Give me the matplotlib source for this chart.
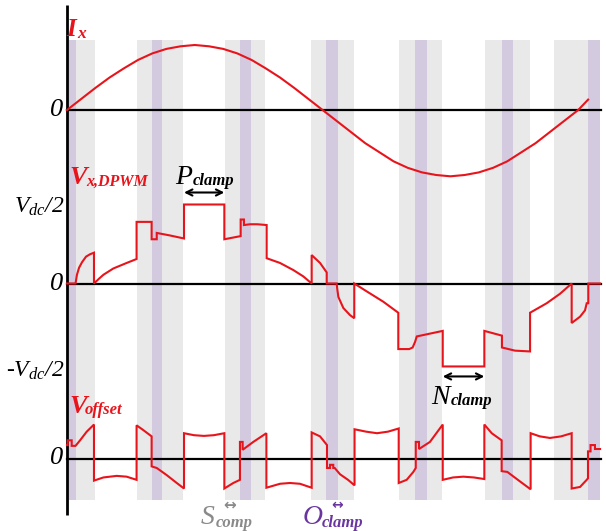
import matplotlib
matplotlib.use("Agg")
import matplotlib.pyplot as plt

# ---------------- data (angles in degrees, values per-unit) ----------------
# phase current I_x (normalised to its peak)
ix_deg = list(range(0, 361, 10)) + [367]
ix_val = [0, .17, .34, .50, .64, .77, .87, .94, .98, 1.0, .98, .94, .87, .77, .64, .50, .34, .17, 0,
          -.17, -.34, -.51, -.65, -.79, -.89, -.96, -1.0, -1.02, -1.0, -.96, -.89, -.79, -.65, -.51,
          -.34, -.17, 0, .16]

# pole voltage V_x,DPWM (units of Vdc/2)
vx_deg = [0, 6.0, 7.0, 8.5, 10.6, 13.4, 16.2, 19.0, 19.0, 22.5, 25.6, 32.6, 42.0, 49.0, 49.0,
          59.6, 59.6, 63.2, 63.2, 72.0, 82.4, 82.4, 110.8, 110.8, 122.3, 122.3, 124.6, 124.6,
          128.9, 134.0, 140.6, 140.6, 150.0, 159.4, 166.4, 172.3, 172.3, 178.2, 182.9, 182.9,
          189.9, 190.4, 191.1, 194.6, 199.3, 202.3, 202.3, 211.1, 222.7, 233.3, 233.3, 241.0,
          243.4, 245.1, 246.3, 264.6, 264.6, 293.9, 293.9, 306.3, 306.3, 315.5, 326.1, 326.1,
          337.8, 347.2, 355.4, 355.4, 361.3, 364.8, 366.0, 367.1, 367.1, 375.4]
vx_val = [0, 0, 0.11, 0.20, 0.27, 0.34, 0.37, 0.39, 0, 0.06, 0.11, 0.19, 0.26, 0.31, 0.78,
          0.78, 0.56, 0.56, 0.64, 0.61, 0.57, 1.0, 1.0, 0.56, 0.60, 0.81, 0.81, 0.74,
          0.75, 0.75, 0.74, 0.32, 0.26, 0.17, 0.09, 0, 0.36, 0.26, 0.14, 0,
          0, -0.08, -0.17, -0.31, -0.40, -0.44, 0, -0.10, -0.23, -0.37, -0.83, -0.83,
          -0.81, -0.74, -0.67, -0.60, -1.05, -1.05, -0.60, -0.66, -0.81, -0.85, -0.86, -0.37,
          -0.25, -0.13, 0, -0.50, -0.42, -0.34, -0.25, -0.25, 0, 0]

# offset voltage V_offset (units of Vdc/2)
vo_deg = [0, 0.5, 0.5, 3.3, 3.3, 6.0, 9.2, 13.9, 19.0, 19.0, 25.6, 35.0, 42.0, 49.0, 49.0,
          53.7, 59.6, 59.6, 63.2, 70.2, 77.3, 82.4, 82.4, 89.4, 96.4, 103.4, 110.8, 110.8,
          117.1, 121.8, 121.8, 123.7, 123.7, 131.2, 140.4, 140.4, 150.0, 157.0, 164.1, 172.3,
          172.3, 178.2, 183.1, 183.1, 185.2, 185.2, 187.5, 187.5, 188.5, 192.3, 197.9, 202.5,
          202.5, 210.6, 218.3, 226.1, 233.6, 233.6, 239.2, 243.9, 245.6, 245.6, 247.9, 247.9,
          255.6, 264.6, 264.6, 271.8, 279.1, 286.6, 293.9, 293.9, 299.1, 306.1, 306.1, 310.1,
          319.0, 326.5, 326.5, 333.0, 340.1, 347.9, 355.4, 355.4, 361.3, 366.0, 366.9, 366.9,
          368.7, 368.7, 371.8, 371.8, 375.4]
vo_val = [0.17, 0.17, 0.23, 0.23, 0.16, 0.16, 0.23, 0.34, 0.43, -0.28, -0.24, -0.22, -0.23, -0.27, 0.42,
          0.36, 0.28, -0.10, -0.12, -0.21, -0.31, -0.38, 0.32, 0.295, 0.286, 0.295, 0.32, -0.38,
          -0.31, -0.27, 0.21, 0.21, 0.11, 0.21, 0.32, -0.37, -0.32, -0.31, -0.32, -0.37,
          0.33, 0.28, 0.17, -0.12, -0.12, -0.08, -0.08, -0.12, -0.12, -0.20, -0.27, -0.34,
          0.37, 0.34, 0.32, 0.34, 0.38, -0.31, -0.27, -0.17, -0.12, 0.21, 0.21, 0.12,
          0.21, 0.43, -0.27, -0.24, -0.23, -0.24, -0.26, 0.43, 0.32, 0.23, -0.16, -0.17,
          -0.29, -0.39, 0.32, 0.28, 0.26, 0.28, 0.32, -0.38, -0.36, -0.27, -0.25, 0.09,
          0.09, 0.17, 0.17, 0.12, 0.12]

# clamping intervals (degrees)
p_clamp = (82.4, 110.8)
n_clamp = (264.6, 293.9)

# shaded intervals (degrees)
gray_bands = [(6.3, 19.7), (49.3, 81.7), (111.3, 139.4), (171.8, 202.1),
              (233.8, 264.1), (294.4, 326.1), (343.0, 366.9)]
purple_bands = [(0, 6.3), (59.9, 66.9), (121.8, 129.6), (182.4, 190.8),
                (245.1, 253.5), (306.3, 314.1), (366.9, 375.4)]

# ---------------- style / layout ----------------
RED = "#e8141c"
GRAY_BAND = "#e9e9e9"
PURPLE_BAND = "#d4cadf"
GRAY_TXT = "#8a8a8a"
PURPLE_TXT = "#6a35a0"

plt.rcParams["mathtext.fontset"] = "custom"
plt.rcParams["mathtext.rm"] = "Liberation Serif:italic"
plt.rcParams["mathtext.it"] = "Liberation Serif:italic"
plt.rcParams["mathtext.bf"] = "Liberation Serif:italic:bold"
plt.rcParams["mathtext.bfit"] = "Liberation Serif:italic:bold"
plt.rcParams["font.family"] = ["Liberation Serif", "DejaVu Sans"]

W, H = 606, 531
PX = 1.42          # layout px per degree
X0 = 67            # px position of angle 0
IX_BASE, IX_SCALE = 110, 65
VX_BASE, VO_BASE, V_SCALE = 283.5, 458.5, 79
BAND_TOP, BAND_BOT = 40, 500
X_END = 376


def dx(px):
    """layout helper: horizontal pixel position -> axis units"""
    return (px - X0) / PX


fig = plt.figure(figsize=(W / 100, H / 100), dpi=100)
ax = fig.add_axes([0, 0, 1, 1])
ax.axis("off")
ax.set_xlim(-X0 / PX, (W - X0) / PX)
ax.set_ylim(H, 0)

ymin_f = 1 - BAND_BOT / H
ymax_f = 1 - BAND_TOP / H
for lo, hi in gray_bands:
    ax.axvspan(lo, hi, ymin=ymin_f, ymax=ymax_f, color=GRAY_BAND, lw=0, zorder=0)
for lo, hi in purple_bands:
    ax.axvspan(lo, hi, ymin=ymin_f, ymax=ymax_f, color=PURPLE_BAND, lw=0, zorder=1)

# axis + zero lines
ax.plot([0, 0], [5, 515], color="black", lw=2.0, zorder=3, solid_capstyle="butt")
for base in (IX_BASE, VX_BASE, VO_BASE):
    ax.plot([0, X_END], [base, base], color="black", lw=1.6, zorder=3)

# waveforms
ax.plot(ix_deg, [IX_BASE - IX_SCALE * v for v in ix_val], color=RED, lw=1.5, zorder=4)
ax.plot(vx_deg, [VX_BASE - V_SCALE * v for v in vx_val], color=RED, lw=1.5, zorder=4,
        solid_joinstyle="miter")
ax.plot(vo_deg, [VO_BASE - V_SCALE * v for v in vo_val], color=RED, lw=1.5, zorder=4,
        solid_joinstyle="miter")

# clamp arrows
arrow_kw = dict(arrowstyle="<->", color="black", lw=1.5, mutation_scale=11, shrinkA=0, shrinkB=0)
yp = VX_BASE - V_SCALE * 1.0 - 12
ax.annotate("", xy=(p_clamp[0], yp), xytext=(p_clamp[1], yp), arrowprops=arrow_kw)
yn = VX_BASE - V_SCALE * (-1.05) + 10
ax.annotate("", xy=(n_clamp[0], yn), xytext=(n_clamp[1], yn), arrowprops=arrow_kw)


def label(px, base, main, sub_px, sub_base, sub, color, main_fs, sub_fs, main_bold):
    ax.text(dx(px), base, main, color=color, fontsize=main_fs, ha="left", va="baseline",
            family="Liberation Serif", style="italic",
            fontweight="bold" if main_bold else "normal")
    ax.text(dx(sub_px), sub_base, sub, color=color, fontsize=sub_fs, ha="left", va="baseline",
            family="Liberation Serif", style="italic", fontweight="bold")


label(66, 36, "I", 77, 38, "x", RED, 18, 12.5, True)
label(69, 184, "V", 86, 186, "x,DPWM", RED, 19, 11.5, True)
label(175, 184, "P", 193, 185, "clamp", "black", 20, 12, False)
label(431, 404, "N", 451, 405, "clamp", "black", 20, 12, False)
label(69, 413, "V", 85, 414, "offset", RED, 19, 12, True)
label(201, 524, "S", 216, 527, "comp", GRAY_TXT, 20, 12, False)
label(303, 524, "O", 322, 527, "clamp", PURPLE_TXT, 20, 12, False)
ax.text(dx(230), 505, "\u2194", color=GRAY_TXT, fontsize=11, ha="center", va="center",
        family="DejaVu Sans", fontweight="bold")
ax.text(dx(337), 505, "\u2194", color=PURPLE_TXT, fontsize=10, ha="center", va="center",
        family="DejaVu Sans", fontweight="bold")

for base in (IX_BASE, VX_BASE, VO_BASE):
    ax.text(dx(64), base, r"$0$", fontsize=19, ha="right", va="center")
ax.text(dx(64), 213, r"$V_{dc}/2$", fontsize=17, ha="right", va="baseline")
ax.text(dx(64), 377, r"-$V_{dc}/2$", fontsize=17, ha="right", va="baseline", style="italic")

fig.savefig("out.png", dpi=100)
